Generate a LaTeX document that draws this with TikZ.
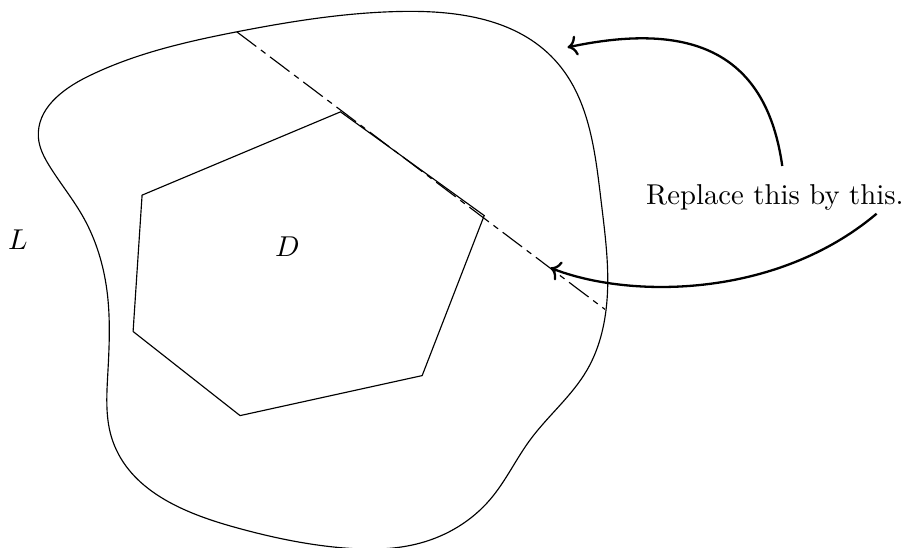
\documentclass[tikz,border=0pt]{standalone}
\usepackage{amsmath}
\usetikzlibrary{arrows.meta, positioning, calc, hobby}

\begin{document}
\begin{tikzpicture}[
        region/.style={draw, line width=0.4pt},
        cutline/.style={draw, line width=0.4pt, dash pattern=on 8.5pt off 2pt on 2pt off 2pt},
        pointer/.style={->, thick},
    ]
        \useasboundingbox (0,0) rectangle (11.12,6.71);

        % Outer region L
        \draw[region, use Hobby shortcut, closed=true]
            (0.47,5.03) .. (1.07,5.77) .. (2.90,6.32) .. (4.94,6.57)
            .. (6.79,5.98) .. (7.36,4.26) .. (7.42,2.90) .. (7.19,2.18)
            .. (6.49,1.32) .. (6.00,0.59) .. (5.15,0.06) .. (4.20,0.00)
            .. (2.85,0.26) .. (1.38,1.31) .. (1.32,2.13) .. (1.31,3.15)
            .. (1.02,4.05) .. (0.61,4.67);

        % Inner polygon D
        \draw[region] (4.17,5.34) -- (5.93,4.07) -- (5.17,2.11) -- (2.94,1.62)
            -- (1.63,2.65) -- (1.74,4.32) -- cycle;

        % Cutting line
        \coordinate (cutA) at (2.90,6.32);
        \coordinate (cutB) at (7.41,2.92);
        \draw[cutline] (cutA) -- (cutB);

        % Labels
        \node (lbl) at (0.22,3.77) {$L$};
        \node (dlbl) at (3.52,3.69) {$D$};
        \node (note) at (9.49,4.29) {Replace this by this.};

        % Pointers
        \coordinate (tipA) at (6.95,6.13);
        \coordinate (tipB) at (6.74,3.43);
        \draw[pointer] ([shift={(0.09,0.105)}]note.north) to[out=98, in=12, looseness=1.25] (tipA);
        \draw[pointer] ([shift={(-0.455,0.085)}]note.south east) .. controls (9.5,3.05) and (7.7,3.05) .. (tipB);
    \end{tikzpicture}
\end{document}
